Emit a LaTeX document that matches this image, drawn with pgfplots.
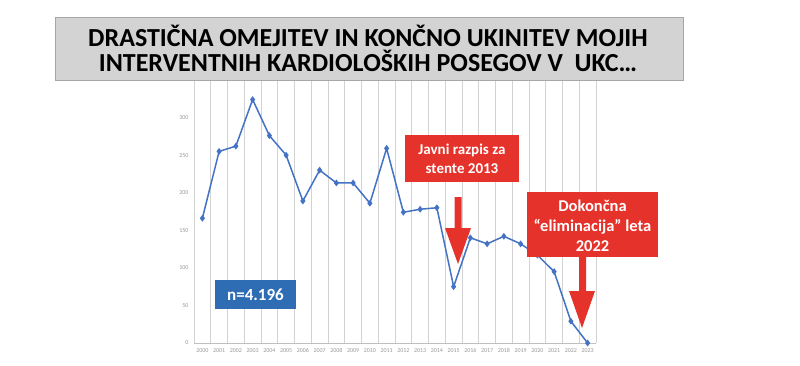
\documentclass[border=0pt]{standalone}
\usepackage{pgfplots}
\pgfplotsset{compat=1.18}
\usepackage{fontspec}
\setmainfont{Carlito}
\definecolor{lineblue}{HTML}{4472C4}
\definecolor{annred}{HTML}{E5322B}
\definecolor{boxblue}{HTML}{2E6DB4}
\definecolor{titlegray}{HTML}{D3D3D3}
\begin{document}
\begin{tikzpicture}[x=1pt,y=1pt]
\fill[white] (0,0) rectangle (800,365);
\begin{axis}[
  at={(194pt,22pt)}, anchor=south west,
  scale only axis, width=402pt, height=263pt,
  xmin=-0.5, xmax=23.5, ymin=0, ymax=350,
  xtick={0,...,23},
  xticklabels={2000,2001,2002,2003,2004,2005,2006,2007,2008,2009,2010,2011,2012,2013,2014,2015,2016,2017,2018,2019,2020,2021,2022,2023},
  minor xtick={-0.5,0.5,...,23.5},
  xminorgrids,
  minor grid style={gray!35, line width=0.8pt},
  ytick={0,50,...,350},
  major tick length=0pt, minor tick length=0pt,
  axis x line*=bottom, axis y line*=left,
  x axis line style={gray!50, line width=0.8pt, -},
  y axis line style={draw=none},
  tick label style={font=\fontsize{6}{7}\selectfont, text=gray!80},
  /pgf/number format/assume math mode=true,
  xticklabel style={yshift=-2pt},
  yticklabel style={xshift=-2pt},
  clip=false,
]
\addplot[color=lineblue, line width=1.5pt, mark=diamond*, mark size=2.2pt, mark options={fill=lineblue}]
coordinates {
(0,166) (1,255) (2,262) (3,324) (4,276) (5,250) (6,189) (7,230) (8,213) (9,213)
(10,186) (11,259) (12,174) (13,178) (14,180) (15,75) (16,140) (17,132) (18,142)
(19,132) (20,117) (21,95) (22,29) (23,0)
};
\end{axis}
% title box
\draw[gray!70, fill=titlegray, line width=0.8pt] (55,285) rectangle (683,348);
\node[font=\fontsize{26}{25}\bfseries\selectfont, align=center] at (368,316.5)
  {DRASTIČNA OMEJITEV IN KONČNO UKINITEV MOJIH\\INTERVENTNIH KARDIOLOŠKIH POSEGOV V~~UKC\ldots};
% blue n box
\fill[boxblue] (215,56) rectangle (296,85);
\node[white, font=\fontsize{17}{19}\bfseries\selectfont] at (255.5,70.5) {n=4.196};
% red box 1
\fill[annred] (405,183) rectangle (519,230);
\node[white, font=\fontsize{15}{19}\bfseries\selectfont, align=center] at (462,206.5) {Javni razpis za\\stente 2013};
\fill[annred] (454.5,168) -- (461.5,168) -- (461.5,137) -- (471,137) -- (458,101) -- (445,137) -- (454.5,137) -- cycle;
% red box 2
\fill[annred] (527,108) rectangle (658,173);
\node[white, font=\fontsize{16.5}{20}\bfseries\selectfont, align=center] at (592.5,139.5) {Dokončna\\“eliminacija” leta\\2022};
\fill[annred] (579,108) -- (586,108) -- (586,74) -- (595,74) -- (582,37) -- (569,74) -- (579,74) -- cycle;
\end{tikzpicture}
\end{document}
